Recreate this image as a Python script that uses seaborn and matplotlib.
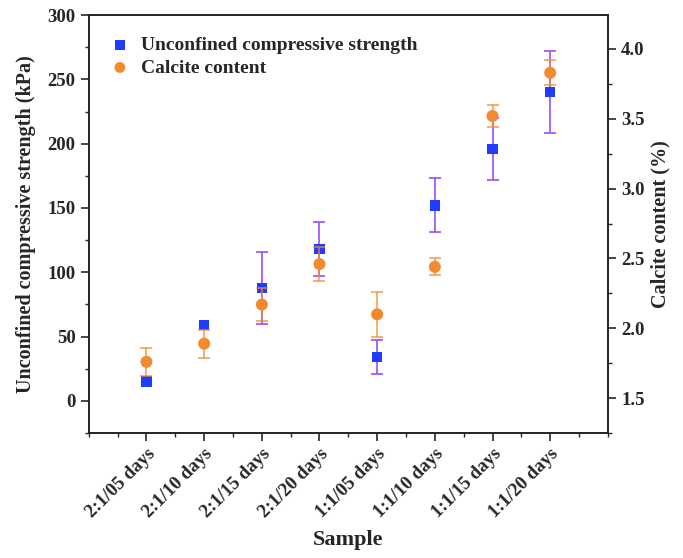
import numpy as np
import pandas as pd
import matplotlib
matplotlib.use("Agg")
import matplotlib.pyplot as plt
from matplotlib.ticker import MultipleLocator
import seaborn as sns

amostras = ["2:1/05 days", "2:1/10 days", "2:1/15 days", "2:1/20 days",
            "1:1/05 days", "1:1/10 days", "1:1/15 days", "1:1/20 days"]
ucs = [15, 59, 88, 118, 34, 152, 196, 240]
ucs_err = [0, 0, 28, 21, 13, 21, 24, 32]
calcite = [1.76, 1.89, 2.17, 2.46, 2.10, 2.44, 3.52, 3.83]
calcite_err = [0.10, 0.10, 0.12, 0.12, 0.16, 0.06, 0.08, 0.09]

sns.set_style("ticks")
plt.rcParams["font.family"] = ["Liberation Serif", "DejaVu Serif"]
plt.rcParams["font.weight"] = "bold"

df = pd.DataFrame({"pos": np.arange(1, len(amostras) + 1),
                   "ucs": ucs, "ucs_err": ucs_err,
                   "calcite": calcite, "calcite_err": calcite_err})

fig = plt.figure(figsize=(6.83, 5.58), dpi=100)
ax = fig.add_axes([0.130, 0.224, 0.760, 0.749])
ax2 = ax.twinx()

azul = "#1f3cff"
laranja = "#f28a2e"
roxo = "#9b4dff"

com_erro = df[df["ucs_err"] > 0]
ax.errorbar(com_erro["pos"], com_erro["ucs"], yerr=com_erro["ucs_err"],
            fmt="none", ecolor=roxo, elinewidth=1.2, capsize=4, capthick=1.2,
            zorder=2)
ax2.errorbar(df["pos"], df["calcite"], yerr=df["calcite_err"], fmt="none",
             ecolor=laranja, elinewidth=1.2, capsize=4, capthick=1.2,
             alpha=0.8, zorder=2)

sns.scatterplot(data=df, x="pos", y="ucs", ax=ax, marker="s", s=55,
                color=azul, edgecolor="none", zorder=3,
                label="Unconfined compressive strength", legend=False)
sns.scatterplot(data=df, x="pos", y="calcite", ax=ax2, marker="o", s=75,
                color=laranja, edgecolor="none", zorder=3,
                label="Calcite content", legend=False)

ax.set_xlim(0, 9)
ax.set_ylim(-25, 300)
ax2.set_ylim(1.25, 4.243)

ax.set_xticks(df["pos"])
ax.set_xticklabels(amostras, rotation=45, ha="right", rotation_mode="anchor",
                   fontsize=13.5, fontweight="bold")
ax.xaxis.set_minor_locator(MultipleLocator(0.5))
ax.yaxis.set_major_locator(MultipleLocator(50))
ax.yaxis.set_minor_locator(MultipleLocator(25))
ax2.set_yticks([1.5, 2.0, 2.5, 3.0, 3.5, 4.0])
ax2.yaxis.set_minor_locator(MultipleLocator(0.25))

for a in (ax, ax2):
    a.tick_params(axis="both", which="major", direction="out", length=6,
                  width=1.2, labelsize=13.5)
    a.tick_params(axis="both", which="minor", direction="out", length=3,
                  width=1.0)
    for lab in a.get_yticklabels():
        lab.set_fontweight("bold")
    for s in a.spines.values():
        s.set_linewidth(1.2)
        s.set_color("#222222")
        s.set_visible(True)
ax.tick_params(axis="x", which="major", pad=3)

ax.set_xlabel("Sample", fontsize=16, fontweight="bold", labelpad=6)
ax.set_ylabel("Unconfined compressive strength (kPa)", fontsize=14.5,
              fontweight="bold", labelpad=8)
ax2.set_ylabel("Calcite content (%)", fontsize=14.5, fontweight="bold")

h1, l1 = ax.get_legend_handles_labels()
h2, l2 = ax2.get_legend_handles_labels()
ax2.legend(h1 + h2, l1 + l2, loc="upper left", frameon=False,
           prop={"size": 14, "weight": "bold"}, handletextpad=0.6,
           borderaxespad=0.7, labelspacing=0.25, markerscale=0.9,
           handlelength=1.0)

fig.savefig("out.png", dpi=100)
